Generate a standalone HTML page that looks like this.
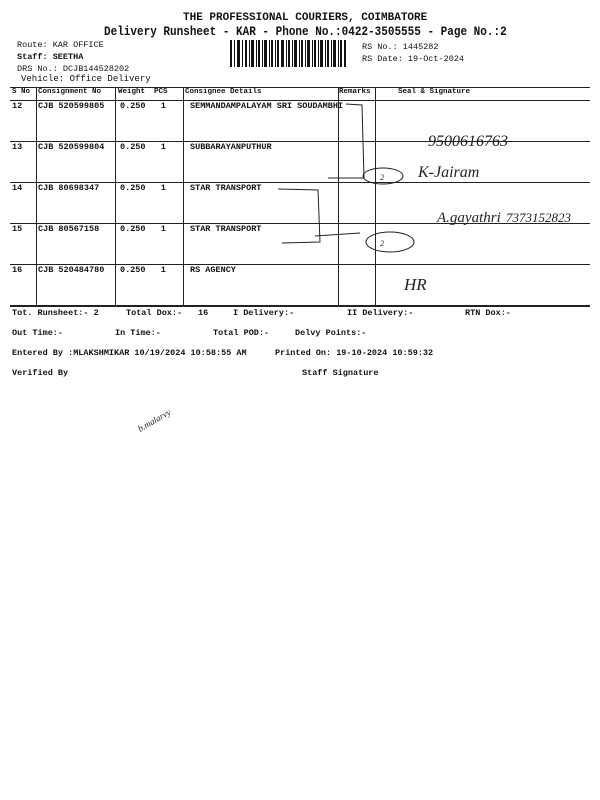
<!DOCTYPE html>
<html><head><style>
body{margin:0;width:600px;height:800px;background:#fff;position:relative;overflow:hidden;font-family:"Liberation Mono",monospace;color:#111;}
.t{position:absolute;white-space:pre;font-size:8.5px;font-weight:bold;line-height:1;}
.n{font-weight:normal;}
.h{position:absolute;background:#222;height:1px;}
.v{position:absolute;background:#222;width:1px;}
</style></head><body>
<div class="t" style="left:183px;top:13px;font-size:11px;">THE PROFESSIONAL COURIERS, COIMBATORE</div>
<div class="t" style="left:104px;top:27px;font-size:11px;transform:scaleY(1.15);transform-origin:0 0;">Delivery Runsheet - KAR - Phone No.:0422-3505555 - Page No.:2</div>
<div class="t n" style="left:17px;top:41px;">Route: KAR OFFICE</div>
<div class="t" style="left:17px;top:53px;">Staff: SEETHA</div>
<div class="t n" style="left:17px;top:65px;">DRS No.: DCJB144528202</div>
<div class="t n" style="left:21px;top:75px;font-size:9px;">Vehicle: Office Delivery</div>
<div class="t n" style="left:362px;top:43px;">RS No.: 1445282</div>
<div class="t n" style="left:362px;top:55px;">RS Date: 19-Oct-2024</div>
<svg style="position:absolute;left:230px;top:40px" width="116" height="27">
<g fill="#111">
<rect x="0" y="0" width="2" height="27"/><rect x="4" y="0" width="1" height="27"/><rect x="7" y="0" width="3" height="27"/><rect x="12" y="0" width="1" height="27"/><rect x="15" y="0" width="2" height="27"/><rect x="19" y="0" width="1" height="27"/><rect x="21" y="0" width="3" height="27"/><rect x="26" y="0" width="1" height="27"/><rect x="28" y="0" width="2" height="27"/><rect x="32" y="0" width="1" height="27"/><rect x="34" y="0" width="3" height="27"/><rect x="39" y="0" width="1" height="27"/><rect x="41" y="0" width="2" height="27"/><rect x="45" y="0" width="1" height="27"/><rect x="47" y="0" width="2" height="27"/><rect x="51" y="0" width="3" height="27"/><rect x="56" y="0" width="1" height="27"/><rect x="58" y="0" width="2" height="27"/><rect x="62" y="0" width="1" height="27"/><rect x="64" y="0" width="3" height="27"/><rect x="69" y="0" width="1" height="27"/><rect x="71" y="0" width="2" height="27"/><rect x="75" y="0" width="1" height="27"/><rect x="77" y="0" width="3" height="27"/><rect x="82" y="0" width="1" height="27"/><rect x="84" y="0" width="2" height="27"/><rect x="88" y="0" width="1" height="27"/><rect x="90" y="0" width="3" height="27"/><rect x="95" y="0" width="1" height="27"/><rect x="97" y="0" width="2" height="27"/><rect x="101" y="0" width="1" height="27"/><rect x="103" y="0" width="3" height="27"/><rect x="108" y="0" width="1" height="27"/><rect x="110" y="0" width="2" height="27"/><rect x="114" y="0" width="2" height="27"/>
</g></svg>

<div class="h" style="left:10px;top:87px;width:580px;"></div>
<div class="h" style="left:10px;top:100px;width:580px;"></div>
<div class="h" style="left:10px;top:141px;width:580px;"></div>
<div class="h" style="left:10px;top:182px;width:580px;"></div>
<div class="h" style="left:10px;top:223px;width:580px;"></div>
<div class="h" style="left:10px;top:264px;width:580px;"></div>
<div class="h" style="left:10px;top:305px;width:580px;height:1.5px;"></div>
<div class="v" style="left:36px;top:87px;height:218px;"></div>
<div class="v" style="left:115px;top:87px;height:218px;"></div>
<div class="v" style="left:183px;top:87px;height:218px;"></div>
<div class="v" style="left:338px;top:87px;height:218px;"></div>
<div class="v" style="left:375px;top:87px;height:218px;"></div>

<div class="t" style="left:12px;top:89px;font-size:7.5px;">S No</div>
<div class="t" style="left:38px;top:89px;font-size:7.5px;">Consignment No</div>
<div class="t" style="left:118px;top:89px;font-size:7.5px;">Weight  PCS</div>
<div class="t" style="left:185px;top:89px;font-size:7.5px;">Consignee Details</div>
<div class="t" style="left:339px;top:89px;font-size:7.5px;">Remarks</div>
<div class="t" style="left:398px;top:89px;font-size:7.5px;">Seal &amp; Signature</div>

<div class="t" style="left:12px;top:102px;">12</div><div class="t" style="left:38px;top:102px;">CJB 520599805</div><div class="t" style="left:120px;top:102px;">0.250   1</div><div class="t" style="left:190px;top:102px;">SEMMANDAMPALAYAM SRI SOUDAMBHI</div>
<div class="t" style="left:12px;top:143px;">13</div><div class="t" style="left:38px;top:143px;">CJB 520599804</div><div class="t" style="left:120px;top:143px;">0.250   1</div><div class="t" style="left:190px;top:143px;">SUBBARAYANPUTHUR</div>
<div class="t" style="left:12px;top:184px;">14</div><div class="t" style="left:38px;top:184px;">CJB 80698347</div><div class="t" style="left:120px;top:184px;">0.250   1</div><div class="t" style="left:190px;top:184px;">STAR TRANSPORT</div>
<div class="t" style="left:12px;top:225px;">15</div><div class="t" style="left:38px;top:225px;">CJB 80567158</div><div class="t" style="left:120px;top:225px;">0.250   1</div><div class="t" style="left:190px;top:225px;">STAR TRANSPORT</div>
<div class="t" style="left:12px;top:266px;">16</div><div class="t" style="left:38px;top:266px;">CJB 520484780</div><div class="t" style="left:120px;top:266px;">0.250   1</div><div class="t" style="left:190px;top:266px;">RS AGENCY</div>

<svg style="position:absolute;left:0;top:0" width="600" height="800">
<g fill="none" stroke="#222" stroke-width="1">
<path d="M346 104 L362 105 L364 178 L328 178"/>
<path d="M278 189 L318 190 L320 242 L282 243"/>
<path d="M315 236 L360 233"/>
<ellipse cx="383" cy="176" rx="20" ry="8"/>
<ellipse cx="390" cy="242" rx="24" ry="10"/>
</g>
<g font-family="Liberation Serif, serif" font-style="italic" fill="#222">
<text x="428" y="146" font-size="16">9500616763</text>
<text x="418" y="177" font-size="16">K-Jairam</text>
<text x="437" y="222" font-size="15">A.gayathri</text>
<text x="506" y="222" font-size="13">7373152823</text>
<text x="404" y="290" font-size="17">HR</text>
<text x="140" y="432" font-size="9" transform="rotate(-30 140 432)">b.malarvy</text>
<text x="380" y="180" font-size="8">2</text>
<text x="380" y="246" font-size="8">2</text>
</g>
</svg>

<div class="t" style="left:12px;top:309px;">Tot. Runsheet:- 2</div>
<div class="t" style="left:126px;top:309px;">Total Dox:-</div>
<div class="t" style="left:198px;top:309px;">16</div>
<div class="t" style="left:233px;top:309px;">I Delivery:-</div>
<div class="t" style="left:347px;top:309px;">II Delivery:-</div>
<div class="t" style="left:465px;top:309px;">RTN Dox:-</div>
<div class="t" style="left:12px;top:329px;">Out Time:-</div>
<div class="t" style="left:115px;top:329px;">In Time:-</div>
<div class="t" style="left:213px;top:329px;">Total POD:-</div>
<div class="t" style="left:295px;top:329px;">Delvy Points:-</div>
<div class="t" style="left:12px;top:349px;">Entered By :MLAKSHMIKAR 10/19/2024 10:58:55 AM</div>
<div class="t" style="left:275px;top:349px;">Printed On: 19-10-2024 10:59:32</div>
<div class="t" style="left:12px;top:369px;">Verified By</div>
<div class="t" style="left:302px;top:369px;">Staff Signature</div>
</body></html>
